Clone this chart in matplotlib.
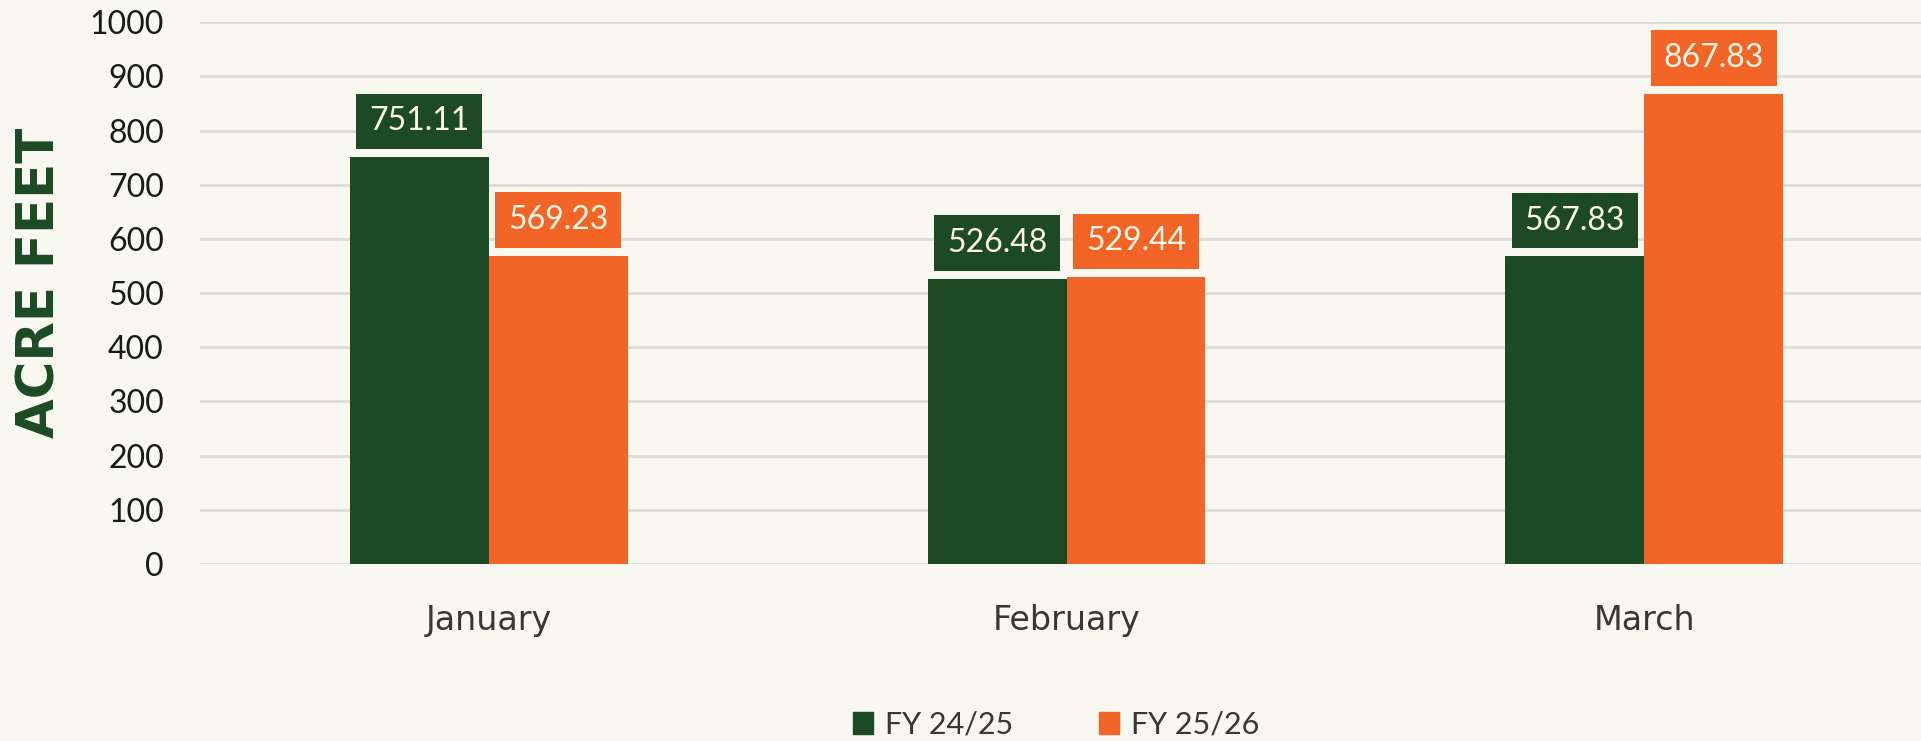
import numpy as np
import matplotlib.pyplot as plt
from matplotlib.patches import Patch

# dados
months = ['January', 'February', 'March']
fy2425 = [751.11, 526.48, 567.83]
fy2526 = [569.23, 529.44, 867.83]
series_names = ['FY 24/25', 'FY 25/26']
yticks = [0, 100, 200, 300, 400, 500, 600, 700, 800, 900, 1000]

# cores
bg = '#F8F7F0'
green = '#1B4A25'
orange = '#F26527'
grid_col = '#DEDCD9'
label_txt = '#FFF7E8'

plt.rcParams['font.family'] = ['Lato', 'DejaVu Sans']

W, H = 1921, 741
fig = plt.figure(figsize=(W / 100, H / 100), dpi=100, facecolor=bg)
# area do grafico em pixels: x 200..1933, y 22..564
ax = fig.add_axes([200 / W, 1 - 564 / H, 1733 / W, (564 - 22.3) / H])
ax.set_facecolor(bg)

x = np.arange(len(months))
bw = 0.2405
b1 = ax.bar(x - bw / 2, fy2425, bw, color=green, zorder=3)
b2 = ax.bar(x + bw / 2, fy2526, bw, color=orange, zorder=3)

# rotulos de dados em caixas
for bars, vals, col in [(b1, fy2425, green), (b2, fy2526, orange)]:
    for r, v in zip(bars, vals):
        ax.annotate(f'{v:.2f}', (r.get_x() + r.get_width() / 2, v),
                    xytext=(0, 15), textcoords='offset points',
                    ha='center', va='bottom', fontsize=23, color=label_txt,
                    bbox=dict(boxstyle='square,pad=0.4', fc=col, ec='none'),
                    zorder=4)

ax.set_xlim(-0.5, 2.5)
ax.set_ylim(0, 1000)
ax.set_yticks(yticks)
ax.set_xticks(x)
ax.set_xticklabels(months, color='#3A3537', family='DejaVu Sans', fontsize=24)
ax.tick_params(axis='y', length=0, pad=26, labelsize=23, labelcolor='#1A1A1A')
ax.tick_params(axis='x', length=0, pad=29)
ax.yaxis.grid(True, color=grid_col, linewidth=2, zorder=0)
for s in ax.spines.values():
    s.set_visible(False)

fig.text(41 / W, 1 - 283 / H, 'ACRE FEET', rotation=90, ha='center', va='center',
         fontsize=37, fontweight='bold', color=green, family='DejaVu Sans')

handles = [Patch(color=green), Patch(color=orange)]
fig.legend(handles, series_names, loc='center', ncol=2,
           bbox_to_anchor=(1056 / W, 1 - 724.5 / H), frameon=False,
           fontsize=22, labelcolor='#3A3537', handlelength=0.65,
           handleheight=0.7, handletextpad=0.4, columnspacing=2.8)

fig.savefig('out.png', dpi=100, facecolor=bg)
